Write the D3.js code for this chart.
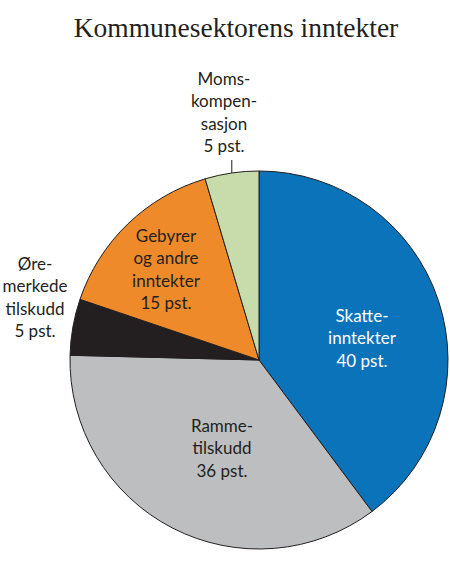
<!DOCTYPE html>
<html>
<head>
<meta charset="utf-8">
<script src="https://cdn.jsdelivr.net/npm/d3@7"></script>
<style>
  body { margin: 0; background: #fff; }
  svg { display: block; }
  .lbl { font-family: Lato, "Open Sans", sans-serif; font-size: 17px; }
</style>
</head>
<body>
<div id="chart"></div>
<script>
const categories = ["Skatteinntekter", "Rammetilskudd", "Øremerkede tilskudd", "Gebyrer og andre inntekter", "Momskompensasjon"];
const values = [39.8, 35.6, 4.8, 15.2, 4.6];
const labelLines = [
    ["Skatte-", "inntekter", "40 pst."],
    ["Ramme-", "tilskudd", "36 pst."],
    ["Øre-", "merkede", "tilskudd", "5 pst."],
    ["Gebyrer", "og andre", "inntekter", "15 pst."],
    ["Moms-", "kompen-", "sasjon", "5 pst."]
];
const colors = ["#0b73b9", "#bdbec0", "#231f20", "#ef8a2a", "#c8dcab"];
const textColors = ["#fff", "#231f20", "#231f20", "#231f20", "#231f20"];

const width = 450, height = 565;
const cx = 259, cy = 360, radius = 189;
const lineH = 22.3;

// where the first line of each label sits (page coords), hand placed like the original
const labelPos = [[362, 322], [222, 432], [35, 270], [166, 242], [224, 85]];

const svg = d3.select("#chart").append("svg")
    .attr("width", width)
    .attr("height", height);

svg.append("text")
    .attr("x", 236)
    .attr("y", 37)
    .attr("text-anchor", "middle")
    .attr("font-family", "'Liberation Serif', 'Times New Roman', serif")
    .attr("font-size", 27.5)
    .attr("fill", "#231f20")
    .text("Kommunesektorens inntekter");

const pie = d3.pie().sort(null).value(d => d);
const arcs = pie(values);
const arc = d3.arc().innerRadius(0).outerRadius(radius);

const g = svg.append("g").attr("transform", `translate(${cx},${cy})`);

g.selectAll("path")
    .data(arcs)
    .enter().append("path")
    .attr("d", arc)
    .attr("fill", (d, i) => colors[i])
    .attr("stroke", "#231f20")
    .attr("stroke-width", 1);

labelLines.forEach((lines, i) => {
    const [x, y] = labelPos[i];
    const t = svg.append("text")
        .attr("class", "lbl")
        .attr("text-anchor", "middle")
        .attr("fill", textColors[i]);
    lines.forEach((s, j) => {
        t.append("tspan").attr("x", x).attr("y", y + j * lineH).text(s);
    });
});

// leader line for Momskompensasjon
const mid = (arcs[4].startAngle + arcs[4].endAngle) / 2;
g.append("line")
    .attr("x1", Math.sin(mid) * radius)
    .attr("y1", -Math.cos(mid) * radius)
    .attr("x2", Math.sin(mid) * radius)
    .attr("y2", -Math.cos(mid) * radius - 13)
    .attr("stroke", "#231f20")
    .attr("stroke-width", 1);
</script>
</body>
</html>
